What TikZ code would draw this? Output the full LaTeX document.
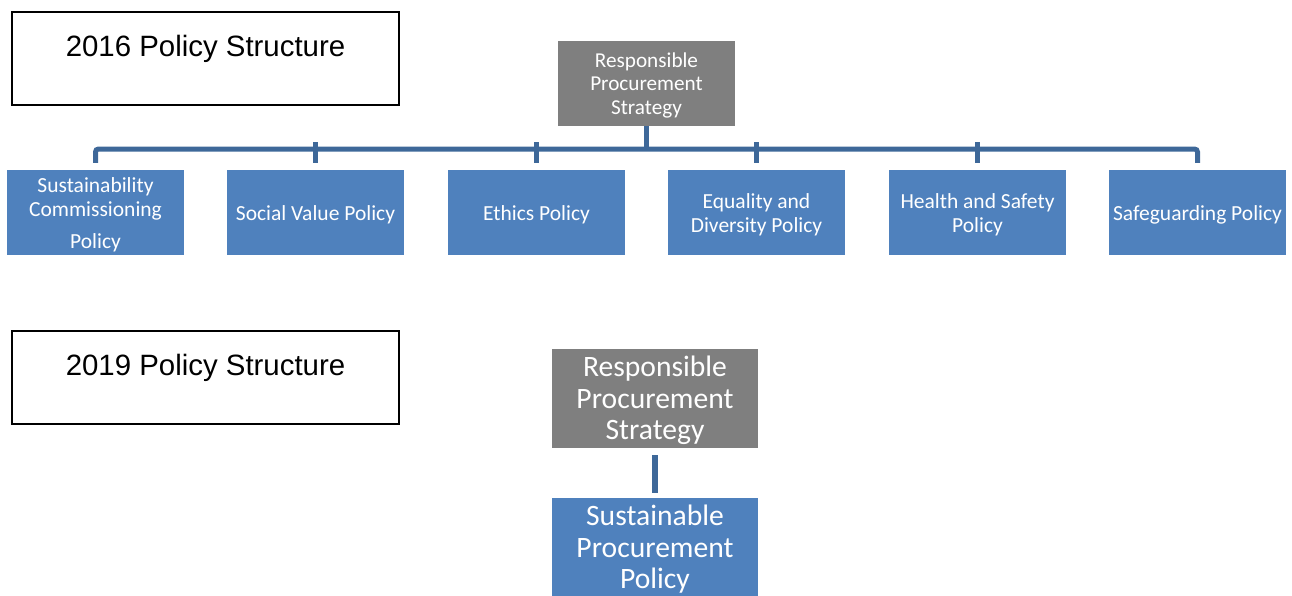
\documentclass[tikz,border=0pt]{standalone}
\usepackage{fontspec}
\setmainfont{Liberation Sans}
\newfontfamily\calfont{Carlito}
\definecolor{boxgray}{HTML}{7F7F7F}
\definecolor{boxblue}{HTML}{4F81BD}
\definecolor{connblue}{RGB}{62,104,153}
\begin{document}
\begin{tikzpicture}[x=1pt,y=-1pt,
  titlebox/.style={draw=black, line width=1.3pt, minimum width=387pt, minimum height=93pt, inner sep=0pt},
  titletext/.style={font=\fontsize{29.4}{33}\selectfont, inner sep=0pt},
  graybox/.style={fill=boxgray, inner sep=0pt},
  child/.style={fill=boxblue, minimum width=177pt, minimum height=85pt, inner sep=0pt},
  wtext/.style={text=white, inner sep=0pt, align=center},
  childtext/.style={wtext, font=\calfont\fontsize{21.5}{24}\selectfont},
  conn/.style={draw=connblue, line width=5pt}
]
\useasboundingbox (0,0) rectangle (1292,595);
% 2016
\node[titlebox] (t1) at (205.5,58.5) {};
\node[titletext] (t1text) at (205.5,48.5) {2016 Policy Structure};
\node[graybox, minimum width=177pt, minimum height=85pt] (top) at (646.5,83.5) {};
\node[wtext, font=\calfont\fontsize{21.2}{23.5}\selectfont] (toptext) at ([yshift=-1.5pt]top) {Responsible\\Procurement\\Strategy};
\node[child] (c1) at (95.5,212.5) {};
\node[child] (c2) at (315.5,212.5) {};
\node[child] (c3) at (536.5,212.5) {};
\node[child] (c4) at (756.5,212.5) {};
\node[child] (c5) at (977.5,212.5) {};
\node[child] (c6) at (1197.5,212.5) {};
\node[childtext] (c1t) at ([yshift=-2pt]c1) {Sustainability\\Commissioning\\[8pt]Policy};
\node[childtext] (c2t) at ([yshift=-2pt]c2) {Social Value Policy};
\node[childtext] (c3t) at ([yshift=-2pt]c3) {Ethics Policy};
\node[childtext] (c4t) at ([yshift=-2pt]c4) {Equality and\\Diversity Policy};
\node[childtext] (c5t) at ([yshift=-2pt]c5) {Health and Safety\\Policy};
\node[childtext] (c6t) at ([yshift=-2pt]c6) {Safeguarding Policy};
\coordinate (bar) at (646.5,149);
\draw[conn] (top.south) -- (bar);
\draw[conn, rounded corners=3pt] ([yshift=7pt]c1.north) |- (bar) -| ([yshift=7pt]c6.north);
\foreach \c in {c2,c3,c4,c5}{
  \draw[conn] ([yshift=7pt]\c.north) -- ([yshift=7pt]\c.north |- bar);
}
% 2019
\node[titlebox] (t2) at (205.5,377.5) {};
\node[titletext] (t2text) at (205.5,367.5) {2019 Policy Structure};
\node[graybox, minimum width=206pt, minimum height=99pt] (top2) at (655,398.5) {};
\node[wtext, font=\calfont\fontsize{29.6}{31.5}\selectfont] (top2t) at ([yshift=-2pt]top2) {Responsible\\Procurement\\Strategy};
\node[fill=boxblue, minimum width=206pt, minimum height=98pt, inner sep=0pt, anchor=north] (sp) at (655,498) {};
\node[wtext, font=\calfont\fontsize{29.6}{31.5}\selectfont] (spt) at ([yshift=-2pt]sp) {Sustainable\\Procurement\\Policy};
\draw[connblue, line width=6pt] ([yshift=-7pt]top2.south) -- ([yshift=5pt]sp.north);
\end{tikzpicture}
\end{document}
